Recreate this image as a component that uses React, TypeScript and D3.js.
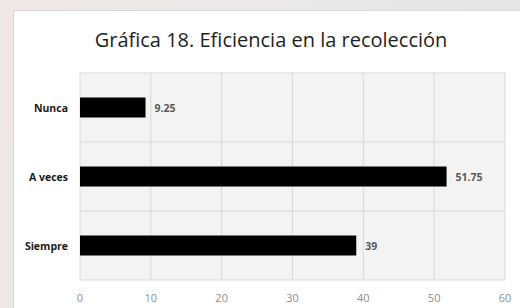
import { scaleLinear, scaleBand } from "d3"

const categories = ["Nunca", "A veces", "Siempre"]
const values = [9.25, 51.75, 39]
const valueLabels = ["9.25", "51.75", "39"]
const xTicks = [0, 10, 20, 30, 40, 50, 60]

const W = 520
const H = 308

export default function App() {
  const left = 80
  const right = 505
  const top = 73
  const bottom = 280

  const x = scaleLinear().domain([0, 60]).range([left, right])
  const y = scaleBand<string>().domain(categories).range([top, bottom]).paddingInner(0).paddingOuter(0)
  const bandH = y.bandwidth()
  const barH = 20
  const bands = [top, ...categories.map((c) => (y(c) ?? 0) + bandH)]

  const font = "'Open Sans', sans-serif"

  return (
    <svg
      width={W}
      height={H}
      viewBox={`0 0 ${W} ${H}`}
      style={{ position: "absolute", left: 0, top: 0, display: "block" }}
    >
      <defs>
        <linearGradient id="bg" x1="0" y1="0" x2="1" y2="0.3">
          <stop offset="0" stopColor="#efe7e3" />
          <stop offset="0.5" stopColor="#ebe8e8" />
          <stop offset="1" stopColor="#e3e4e7" />
        </linearGradient>
      </defs>
      <rect x={0} y={0} width={W} height={H} fill="url(#bg)" />
      <rect x={13.5} y={10.5} width={W} height={H} fill="#ffffff" stroke="#d9d9d9" />

      <text
        x={271}
        y={47}
        textAnchor="middle"
        fontFamily={font}
        fontSize={20}
        fill="#1f1f1f"
      >
        Gráfica 18. Eficiencia en la recolección
      </text>

      <rect x={left} y={top} width={right - left} height={bottom - top} fill="#f3f3f3" />

      {xTicks.map((t) => (
        <line key={t} x1={x(t)} x2={x(t)} y1={top} y2={bottom} stroke="#d9d9d9" strokeWidth={1} />
      ))}
      {bands.map((b, i) => (
        <line key={i} x1={left} x2={right} y1={b} y2={b} stroke="#d9d9d9" strokeWidth={1} />
      ))}

      {categories.map((c, i) => {
        const cy = (y(c) ?? 0) + bandH / 2
        return (
          <g key={c}>
            <rect x={x(0)} y={cy - barH / 2} width={x(values[i]) - x(0)} height={barH} fill="#000000" />
            <text
              x={x(values[i]) + 9}
              y={cy + 4}
              fontFamily={font}
              fontSize={10.5}
              fontWeight="bold"
              fill="#595959"
            >
              {valueLabels[i]}
            </text>
            <text
              x={68}
              y={cy + 4}
              textAnchor="end"
              fontFamily={font}
              fontSize={10.5}
              fontWeight="bold"
              fill="#1a1a1a"
            >
              {c}
            </text>
          </g>
        )
      })}

      {xTicks.map((t) => (
        <text
          key={t}
          x={x(t)}
          y={302}
          textAnchor="middle"
          fontFamily={font}
          fontSize={11}
          fill="#8f8f8f"
        >
          {t}
        </text>
      ))}
    </svg>
  )
}
